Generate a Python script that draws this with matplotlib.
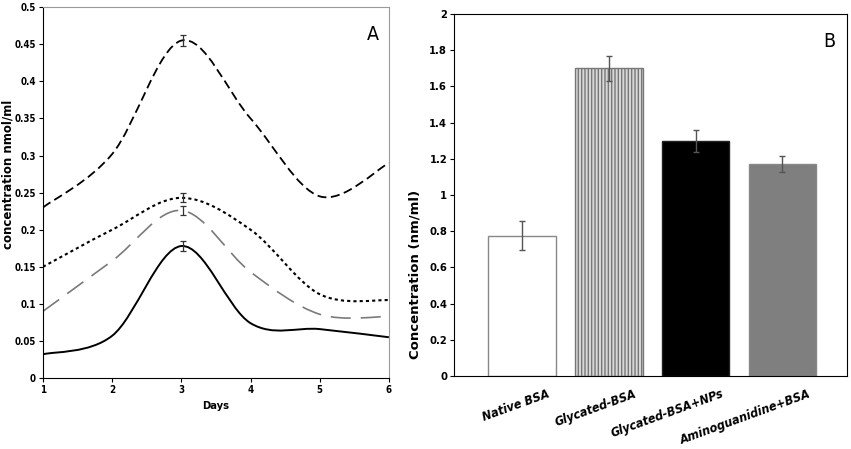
import matplotlib
matplotlib.use("Agg")
import matplotlib.pyplot as plt
from matplotlib.path import Path
from matplotlib.patches import PathPatch

plt.rcParams['font.family'] = ['DejaVu Sans']
plt.rcParams['font.stretch'] = 'condensed'
plt.rcParams['font.weight'] = 'bold'

# ---- panel A data ----
days = [1, 2, 3, 4, 5, 6]
top_dashed = [0.23, 0.302, 0.455, 0.35, 0.245, 0.29]
dotted = [0.15, 0.20, 0.243, 0.20, 0.113, 0.105]
long_dash = [0.09, 0.158, 0.226, 0.143, 0.086, 0.083]
solid = [0.032, 0.057, 0.178, 0.074, 0.066, 0.055]
peak_err = [0.008, 0.006, 0.006, 0.007]

# ---- panel B data ----
groups = ["Native BSA", "Glycated-BSA", "Glycated-BSA+NPs", "Aminoguanidine+BSA"]
conc = [0.775, 1.70, 1.30, 1.17]
conc_err = [0.08, 0.07, 0.06, 0.045]


def smooth_path(xs, ys):
    # Catmull-Rom style smoothing drawn as cubic Bezier segments
    px = [xs[0]] + list(xs) + [xs[-1]]
    py = [ys[0]] + list(ys) + [ys[-1]]
    verts = [(xs[0], ys[0])]
    codes = [Path.MOVETO]
    for i in range(1, len(px) - 2):
        c1 = (px[i] + (px[i + 1] - px[i - 1]) / 6, py[i] + (py[i + 1] - py[i - 1]) / 6)
        c2 = (px[i + 1] - (px[i + 2] - px[i]) / 6, py[i + 1] - (py[i + 2] - py[i]) / 6)
        verts += [c1, c2, (px[i + 1], py[i + 1])]
        codes += [Path.CURVE4] * 3
    return Path(verts, codes)


fig = plt.figure(figsize=(8.51, 4.49), dpi=100)

# ---------------- A ----------------
ax1 = fig.add_axes([0.0505, 0.158, 0.4065, 0.826])
styles = [
    dict(color="black", lw=1.3, linestyle=(0, (5, 2.5))),
    dict(color="black", lw=1.5, linestyle=(0, (1.5, 1.5))),
    dict(color="#7a7a7a", lw=1.2, linestyle=(0, (12, 6))),
    dict(color="black", lw=1.4, linestyle="-"),
]
series = [top_dashed, dotted, long_dash, solid]
for ys, st, e in zip(series, styles, peak_err):
    ax1.add_patch(PathPatch(smooth_path(days, ys), fill=False, **st))
    ax1.errorbar([days[2] + 0.03], [ys[2]], yerr=[e], fmt="none",
                 ecolor="#333333", elinewidth=0.9, capsize=2, capthick=0.9)

ax1.set_xlim(1, 6)
ax1.set_ylim(0, 0.5)
ax1.set_xticks(days)
ax1.set_yticks([i * 0.05 for i in range(11)])
ax1.set_yticklabels(["0", "0.05", "0.1", "0.15", "0.2", "0.25", "0.3",
                     "0.35", "0.4", "0.45", "0.5"])
ax1.tick_params(labelsize=7, length=3, width=0.8, direction="out", pad=2)
ax1.set_xlabel("Days", fontsize=8, fontweight="bold", labelpad=4)
ax1.set_ylabel("concentration nmol/ml", fontsize=8.5, fontweight="bold",
               fontstretch="normal")
ax1.yaxis.set_label_coords(-0.083, 0.55)
for s in ["top", "right"]:
    ax1.spines[s].set_color("#999999")
ax1.text(0.955, 0.925, "A", transform=ax1.transAxes, fontsize=14,
         fontweight="normal", ha="center", va="center")

# ---------------- B ----------------
ax2 = fig.add_axes([0.5335, 0.1626, 0.4615, 0.8064])
xpos = list(range(len(groups)))
face = ["white", "#d8d8d8", "black", "#7f7f7f"]
edge = ["#888888", "#777777", "#222222", "#888888"]
hatch = [None, "|||||", None, None]
for x, v, f, ec, h in zip(xpos, conc, face, edge, hatch):
    ax2.bar(x, v, width=0.78, color=f, edgecolor=ec, hatch=h, linewidth=1.0)
ax2.errorbar(xpos, conc, yerr=conc_err, fmt="none", ecolor="#555555",
             elinewidth=1.0, capsize=2, capthick=1.0)
ax2.set_xlim(-0.78, 3.74)
ax2.set_ylim(0, 2)
ax2.set_yticks([i * 0.2 for i in range(11)])
ax2.set_yticklabels(["0", "0.2", "0.4", "0.6", "0.8", "1", "1.2", "1.4",
                     "1.6", "1.8", "2"])
# labels hang off a point a little right of each bar centre
ax2.set_xticks([x + 0.29 for x in xpos])
ax2.set_xticklabels(groups, rotation=20, ha="right", va="top", style="italic",
                    fontsize=9, rotation_mode="anchor")
ax2.tick_params(axis="x", length=0, pad=8)
ax2.tick_params(axis="y", labelsize=8, length=3, width=0.8, pad=2)
ax2.set_ylabel("Concentration (nm/ml)", fontsize=9.5, fontweight="bold",
               fontstretch="normal")
ax2.yaxis.set_label_coords(-0.084, 0.28)
ax2.text(0.955, 0.925, "B", transform=ax2.transAxes, fontsize=14,
         fontweight="normal", ha="center", va="center")

fig.savefig("out.png", dpi=100)
